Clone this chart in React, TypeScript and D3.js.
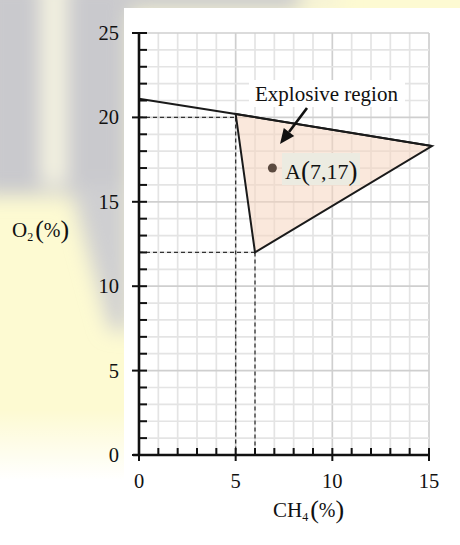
import React from "react";
import * as d3 from "d3";

// values
const xTicks = [0, 5, 10, 15];
const yTicks = [0, 5, 10, 15, 20, 25];
const boundaryLine: [number, number][] = [[0, 21.1], [5, 20.2], [15.15, 18.3]];
const regionVertices: [number, number][] = [[5, 20.2], [15.15, 18.3], [6, 12]];
const guidePoints = [{ x: 5, y: 20 }, { x: 6, y: 12 }];
const pointA = { x: 6.9, y: 17, label: "7,17" };
const regionLabel = "Explosive region";

const W = 460;
const H = 545;
const FONT = "'Liberation Serif', 'Times New Roman', serif";

export default function App() {
  const x = d3.scaleLinear().domain([0, 15]).range([139, 429]);
  const y = d3.scaleLinear().domain([0, 25]).range([455, 33]);

  const minorX = d3.range(0, 16);
  const minorY = d3.range(0, 26);

  const line = d3.line<[number, number]>().x(d => x(d[0])).y(d => y(d[1]));
  const regionPath = line(regionVertices) + "Z";

  // arrow from label down into the region
  const ax1 = 307, ay1 = 108, ax2 = 280, ay2 = 144;
  const ang = Math.atan2(ay2 - ay1, ax2 - ax1);
  const hl = 15, hw = 6.5;
  const bx = ax2 - hl * Math.cos(ang), by = ay2 - hl * Math.sin(ang);
  const head = `M${ax2},${ay2}L${bx + hw * Math.sin(ang)},${by - hw * Math.cos(ang)}L${bx - hw * Math.sin(ang)},${by + hw * Math.cos(ang)}Z`;

  return (
    <svg width={W} height={H} style={{ position: "absolute", left: 0, top: 0 }} fontFamily={FONT}>
      <defs>
        <filter id="blur" x="-20%" y="-20%" width="140%" height="140%">
          <feGaussianBlur stdDeviation="10" />
        </filter>
        <linearGradient id="fadeWhite" x1="0" y1="0" x2="0" y2="1">
          <stop offset="0" stopColor="#ffffff" stopOpacity="0" />
          <stop offset="1" stopColor="#ffffff" stopOpacity="1" />
        </linearGradient>
      </defs>

      {/* blurry watermark background */}
      <rect x={0} y={0} width={W} height={H} fill="#fdfad2" />
      <g filter="url(#blur)">
        <rect x={-20} y={-20} width={150} height={215} fill="#c9c9cd" />
        <rect x={42} y={-20} width={24} height={205} fill="#f7f5e2" />
        <polygon points="70,185 130,185 130,330 110,330" fill="#cfcfd1" />
        <rect x={120} y={-20} width={185} height={30} fill="#cacacd" />
        <rect x={300} y={-20} width={40} height={30} fill="#f6f3d6" />
      </g>
      <rect x={0} y={410} width={130} height={70} fill="url(#fadeWhite)" />
      <rect x={0} y={480} width={130} height={65} fill="#ffffff" />

      {/* white panel */}
      <rect x={124} y={8} width={W - 124} height={H - 8} fill="#ffffff" />

      {/* grid */}
      {minorX.map(v => (
        <line key={"gx" + v} x1={x(v)} x2={x(v)} y1={y(0)} y2={y(25)}
          stroke={v % 5 === 0 ? "#cfcfcf" : "#e4e4e4"} strokeWidth={1.7} />
      ))}
      {minorY.map(v => (
        <line key={"gy" + v} x1={x(0)} x2={x(15)} y1={y(v)} y2={y(v)}
          stroke={v % 5 === 0 ? "#cfcfcf" : "#e4e4e4"} strokeWidth={1.7} />
      ))}

      {/* explosive region */}
      <path d={regionPath} fill="#f6d5bf" fillOpacity={0.55} stroke="none" />

      {/* dashed guides */}
      {guidePoints.map((p, i) => (
        <g key={"guide" + i} stroke="#333" strokeWidth={1.3} strokeDasharray="4,3" fill="none">
          <line x1={x(0)} x2={x(p.x)} y1={y(p.y)} y2={y(p.y)} />
          <line x1={x(p.x)} x2={x(p.x)} y1={y(p.y)} y2={y(0)} />
        </g>
      ))}

      {/* boundary lines */}
      <path d={line(boundaryLine) || ""} fill="none" stroke="#1a1a1a" strokeWidth={2} />
      <path d={regionPath} fill="none" stroke="#1a1a1a" strokeWidth={2} strokeLinejoin="miter" />

      {/* axes */}
      <line x1={x(0)} x2={x(0)} y1={y(0) + 1} y2={y(25)} stroke="#111" strokeWidth={2.6} />
      <line x1={x(0) - 6} x2={x(15)} y1={y(0)} y2={y(0)} stroke="#111" strokeWidth={2.6} />
      {minorY.map(v => (
        <line key={"ty" + v} x1={v % 5 === 0 ? x(0) - 7 : x(0)} x2={x(0) + 8} y1={y(v)} y2={y(v)}
          stroke="#111" strokeWidth={2} />
      ))}
      {minorX.map(v => (
        <line key={"tx" + v} x1={x(v)} x2={x(v)} y1={y(0) - 7} y2={v % 5 === 0 ? y(0) + 6 : y(0)}
          stroke="#111" strokeWidth={2} />
      ))}

      {/* tick labels */}
      {yTicks.map(v => (
        <text key={"ly" + v} x={119} y={y(v) + 7} textAnchor="end" fontSize={20.5} fill="#111">{v}</text>
      ))}
      {xTicks.map(v => (
        <text key={"lx" + v} x={x(v)} y={488} textAnchor="middle" fontSize={20.5} fill="#111">{v}</text>
      ))}

      {/* axis titles */}
      <text x={12} y={237} fontSize={21} fill="#111">
        O<tspan fontSize={12} dy={4}>2</tspan>
        <tspan fontSize={26} dy={-3} dx={2}>(</tspan>
        <tspan fontSize={20} dy={-1}>%</tspan>
        <tspan fontSize={26} dy={1}>)</tspan>
      </text>
      <text x={273} y={517} fontSize={21} fill="#111">
        CH<tspan fontSize={12} dy={4}>4</tspan>
        <tspan fontSize={26} dy={-3} dx={2}>(</tspan>
        <tspan fontSize={20} dy={-1}>%</tspan>
        <tspan fontSize={26} dy={1}>)</tspan>
      </text>

      {/* annotation */}
      <rect x={249} y={80} width={156} height={27} fill="#ffffff" />
      <text x={326.5} y={100.5} textAnchor="middle" fontSize={21} fill="#111">{regionLabel}</text>
      <line x1={ax1} y1={ay1} x2={bx} y2={by} stroke="#111" strokeWidth={2.6} />
      <path d={head} fill="#111" />

      {/* point A */}
      <rect x={282} y={153} width={78} height={32} fill="#ecebe1" />
      <circle cx={x(pointA.x)} cy={y(pointA.y)} r={4.5} fill="#5b4a40" />
      <text x={285} y={178.5} fontSize={22} fill="#111">
        A<tspan fontSize={27} dy={1}>(</tspan>
        <tspan fontSize={22} dy={-1}>{pointA.label}</tspan>
        <tspan fontSize={27} dy={1}>)</tspan>
      </text>
    </svg>
  );
}
